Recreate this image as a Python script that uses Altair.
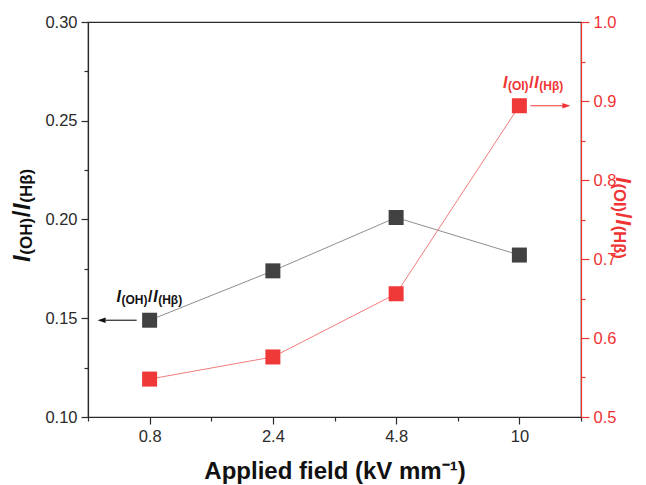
import altair as alt
import pandas as pd

# ---- data ----
fields = ["0.8", "2.4", "4.8", "10"]          # applied field (kV/mm), categorical
oh_ratio = [0.149, 0.174, 0.201, 0.182]       # I(OH)/I(Hbeta), left axis
oi_ratio = [0.548, 0.576, 0.656, 0.894]       # I(OI)/I(Hbeta), right axis

idx = list(range(1, len(fields) + 1))
df = pd.DataFrame({"idx": idx, "field": fields, "oh": oh_ratio, "oi": oi_ratio})

FONT = "Liberation Sans"
BLACK_PT = "#414141"
BLACK_LN = "#8f8f8f"
RED_PT = "#ef3838"
RED_LN = "#f47c7c"
RED_AX = "#f03434"
AX = "#2a2a2a"

x_label_expr = "".join(f"datum.value == {i} ? '{f}' : " for i, f in zip(idx, fields)) + "''"
minor_x = "abs(datum.value - round(datum.value)) > 0.001"
minor_l = "abs(datum.value*20 - round(datum.value*20)) > 0.001"
minor_r = "abs(datum.value*10 - round(datum.value*10)) > 0.001"

X = alt.X(
    "idx:Q",
    scale=alt.Scale(domain=[0.5, len(fields) + 0.5], nice=False, zero=False),
    axis=alt.Axis(
        values=[0.5 + 0.5 * k for k in range(2 * len(fields) + 1)],
        labelExpr=x_label_expr,
        title="Applied field (kV mm⁻¹)",
        titleFontSize=24, titleFontWeight="bold", titleColor="#111",
        titlePadding=15,
        tickSize=7,
        tickDash={"condition": {"test": minor_x, "value": [4, 20]}, "value": []},
        grid=False,
    ),
)

Y_L = alt.Y(
    "oh:Q",
    scale=alt.Scale(domain=[0.10, 0.30], nice=False, zero=False),
    axis=alt.Axis(
        orient="left",
        values=[round(0.10 + 0.025 * k, 3) for k in range(9)],
        labelExpr=f"{minor_l} ? '' : format(datum.value, '.2f')",
        title=None, tickSize=7,
        tickDash={"condition": {"test": minor_l, "value": [4, 20]}, "value": []},
        grid=False,
    ),
)

Y_R = alt.Y(
    "oi:Q",
    scale=alt.Scale(domain=[0.5, 1.0], nice=False, zero=False),
    axis=alt.Axis(
        orient="right",
        values=[round(0.5 + 0.05 * k, 3) for k in range(11)],
        labelExpr=f"{minor_r} ? '' : format(datum.value, '.1f')",
        title=None, tickSize=8,
        tickDash={"condition": {"test": minor_r, "value": [4, 20]}, "value": []},
        domainColor=RED_AX, tickColor=RED_AX, labelColor=RED_AX,
        grid=False,
    ),
)

base = alt.Chart(df)

# Arial-bold advance widths (em) for composing the mixed-style labels
W = {"I": 0.278, "(": 0.333, ")": 0.333, "O": 0.778, "H": 0.722, "/": 0.278, "β": 0.611}


def pieces(sub1, big, small):
    return [("I", big, "italic", 0), (sub1, small, "normal", 2), ("/", big, "normal", 0),
            ("I", big, "italic", 0), ("(Hβ)", small, "normal", 2)]


def advance(txt, size):
    return sum(W.get(c, 0.6) for c in txt) * size + 0.6


def label_layers(chart_src, y_def, color, sub1, big, small, cx, cy):
    ps = pieces(sub1, big, small)
    total = sum(advance(t, s) for t, s, _, _ in ps)
    pos = cx - total / 2
    out = []
    for t, s, st, d in ps:
        out.append(
            chart_src.mark_text(text=t, font=FONT, fontSize=s, fontStyle=st, fontWeight="bold",
                                color=color, align="left", baseline="alphabetic",
                                dx=pos, dy=cy + d).encode(x=X, y=y_def)
        )
        pos += advance(t, s)
    return out


def title_layers(color, sub1, big, small, x, y, angle):
    ps = pieces(sub1, big, small)
    src = alt.Chart(pd.DataFrame({"a": [0]}))
    pos = 0
    out = []
    for t, s, st, d in ps:
        out.append(
            src.mark_text(text=t, font=FONT, fontSize=s, fontStyle=st, fontWeight="bold",
                          color=color, align="left", baseline="alphabetic", angle=angle,
                          dx=pos, dy=d).encode(x=alt.value(x), y=alt.value(y))
        )
        pos += advance(t, s)
    return out


# ---- OH series (left axis) ----
oh_line = base.mark_line(color=BLACK_LN, strokeWidth=1).encode(x=X, y=Y_L)
oh_pts = base.mark_point(shape="square", filled=True, size=225, color=BLACK_PT, opacity=1).encode(x=X, y=Y_L)
oh_first = base.transform_filter(f"datum.idx == {idx[0]}")
oh_arrow = oh_first.mark_rule(color="#111", strokeWidth=1.1, xOffset=-13, x2Offset=-44).encode(
    x=X, x2="idx:Q", y=Y_L)
oh_head = oh_first.mark_point(shape="M-1,0L1,-0.7L1,0.7Z", filled=True, size=64, color="#111",
                              opacity=1, xOffset=-48).encode(x=X, y=Y_L)
oh_label = label_layers(oh_first, Y_L, "#111", "(OH)", 16, 12, 0, -18)

left = alt.layer(oh_line, oh_pts, oh_arrow, oh_head, *oh_label)

# ---- OI series (right axis) ----
oi_line = base.mark_line(color=RED_LN, strokeWidth=1).encode(x=X, y=Y_R)
oi_pts = base.mark_point(shape="square", filled=True, size=225, color=RED_PT, opacity=1).encode(x=X, y=Y_R)
oi_last = base.transform_filter(f"datum.idx == {idx[-1]}")
oi_arrow = oi_last.mark_rule(color=RED_AX, strokeWidth=1.1, xOffset=11, x2Offset=44).encode(
    x=X, x2="idx:Q", y=Y_R)
oi_head = oi_last.mark_point(shape="M1,0L-1,-0.7L-1,0.7Z", filled=True, size=64, color=RED_AX,
                             opacity=1, xOffset=47).encode(x=X, y=Y_R)
oi_label = label_layers(oi_last, Y_R, RED_AX, "(OI)", 16, 12, 14, -18)

right = alt.layer(oi_line, oi_pts, oi_arrow, oi_head, *oi_label)

# ---- rotated axis titles ----
left_title = title_layers("#111", "(OH)", 24, 17, -58, 240, 270)
right_title = title_layers(RED_AX, "(OI)", 21.5, 16.5, 528, 155, 90)

chart = (
    alt.layer(left, right, *left_title, *right_title)
    .resolve_scale(y="independent")
    .properties(
        width=493, height=395,
        autosize=alt.AutoSizeParams(type="none"),
        padding={"left": 80, "top": 14, "right": 57, "bottom": 68},
    )
    .configure_view(stroke=AX, strokeWidth=1.2)
    .configure_axis(
        labelFont=FONT, titleFont=FONT, labelFontSize=16.5, labelColor="#2b2b2b",
        domainColor=AX, tickColor=AX, domainWidth=1.2, tickWidth=1.2, labelPadding=4,
    )
)

chart.save("out.html", embed_options={"renderer": "svg", "actions": False})
